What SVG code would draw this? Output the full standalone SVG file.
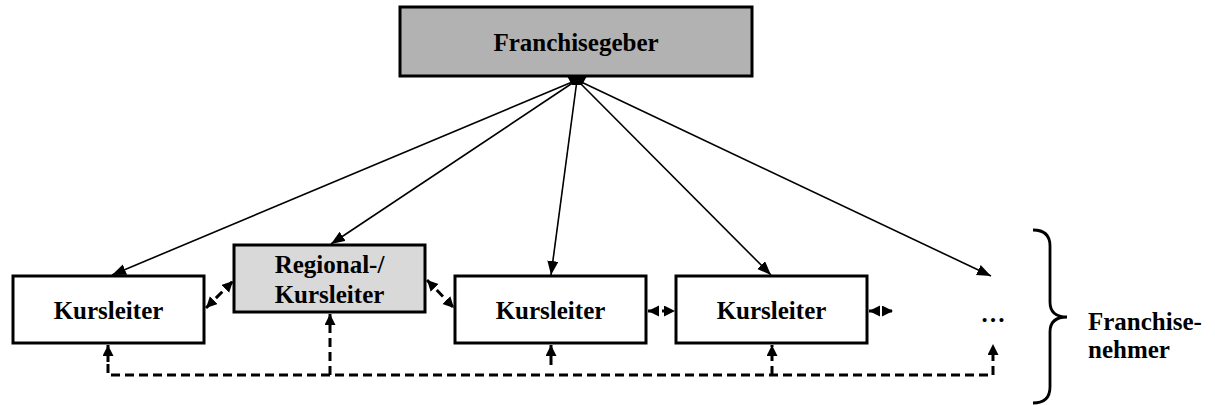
<svg xmlns="http://www.w3.org/2000/svg" width="1215" height="405" viewBox="0 0 1215 405">
<style>
.box{stroke:#000;stroke-width:3}
.t{font-family:"Liberation Serif","Times New Roman",serif;font-weight:bold;font-size:25px;fill:#000}
.ln{stroke:#000;stroke-width:1.6;fill:none}
.ds{stroke:#000;stroke-width:3;fill:none;stroke-dasharray:9 5}
.br{stroke:#000;stroke-width:2.8;fill:none}
</style>
<defs>
<marker id="ah" markerUnits="userSpaceOnUse" markerWidth="16" markerHeight="12" refX="14" refY="5.5" orient="auto">
<path d="M0,0 L14,5.5 L0,11 Z" fill="#000"/>
</marker>
<marker id="ad" markerUnits="userSpaceOnUse" markerWidth="13" markerHeight="12" refX="11" refY="5.5" orient="auto-start-reverse">
<path d="M0,0 L11,5.5 L0,11 Z" fill="#000"/>
</marker>
</defs>
<g id="franchisegeber">
<rect class="box" x="400" y="7" width="352" height="69" fill="#b2b2b2"/>
<text class="t" x="576" y="51" text-anchor="middle">Franchisegeber</text>
</g>
<g id="kursleiter1">
<rect class="box" x="13" y="276" width="191" height="67" fill="#fff"/>
<text class="t" x="108.5" y="319" text-anchor="middle">Kursleiter</text>
</g>
<g id="regional">
<rect class="box" x="234" y="245" width="191" height="67" fill="#d9d9d9"/>
<text class="t" x="329.5" y="273" text-anchor="middle">Regional-/</text>
<text class="t" x="329.5" y="303" text-anchor="middle">Kursleiter</text>
</g>
<g id="kursleiter2">
<rect class="box" x="455" y="276" width="191" height="67" fill="#fff"/>
<text class="t" x="550.5" y="319" text-anchor="middle">Kursleiter</text>
</g>
<g id="kursleiter3">
<rect class="box" x="676" y="276" width="191" height="67" fill="#fff"/>
<text class="t" x="771.5" y="319" text-anchor="middle">Kursleiter</text>
</g>
<g id="more">
<text class="t" x="993" y="322" text-anchor="middle">…</text>
</g>
<g id="franchisenehmer">
<path class="br" d="M1033,230 Q1050,230 1050,246 L1050,302 Q1050,317 1067,317 Q1050,317 1050,332 L1050,387 Q1050,403 1033,403"/>
<text class="t" x="1088" y="330">Franchise-</text>
<text class="t" x="1088" y="358">nehmer</text>
</g>
<g id="connectors">
<path d="M567,76 L587,76 L582,85 L572,85 Z" fill="#000"/>
<line class="ln" x1="577" y1="80" x2="112" y2="275" marker-end="url(#ah)"/>
<line class="ln" x1="577" y1="80" x2="331" y2="244" marker-end="url(#ah)"/>
<line class="ln" x1="577" y1="80" x2="551" y2="275" marker-end="url(#ah)"/>
<line class="ln" x1="577" y1="80" x2="771" y2="275" marker-end="url(#ah)"/>
<line class="ln" x1="577" y1="80" x2="991" y2="276" marker-end="url(#ah)"/>
<line class="ds" x1="206" y1="308" x2="233" y2="281" stroke-dasharray="6 4" marker-start="url(#ad)" marker-end="url(#ad)"/>
<line class="ds" x1="427" y1="280" x2="454" y2="308" stroke-dasharray="6 4" marker-start="url(#ad)" marker-end="url(#ad)"/>
<line class="ds" x1="648" y1="311" x2="675" y2="311" stroke-dasharray="5 3" marker-start="url(#ad)" marker-end="url(#ad)"/>
<line class="ds" x1="869" y1="311" x2="893" y2="311" stroke-dasharray="4 3" marker-start="url(#ad)" marker-end="url(#ad)"/>
<polyline class="ds" points="108,364 108,375 993,375 993,358"/>
<line class="ds" x1="108" y1="362" x2="108" y2="345" stroke-dasharray="none" marker-end="url(#ad)"/>
<line class="ds" x1="330" y1="375" x2="330" y2="314" marker-end="url(#ad)"/>
<line class="ds" x1="551" y1="365" x2="551" y2="345" stroke-dasharray="none" marker-end="url(#ad)"/>
<line class="ds" x1="772" y1="375" x2="772" y2="345" stroke-dasharray="8 4" marker-end="url(#ad)"/>
<line class="ds" x1="993" y1="358" x2="993" y2="344" stroke-dasharray="none" stroke-width="0" marker-end="url(#ad)"/>
</g>
</svg>
